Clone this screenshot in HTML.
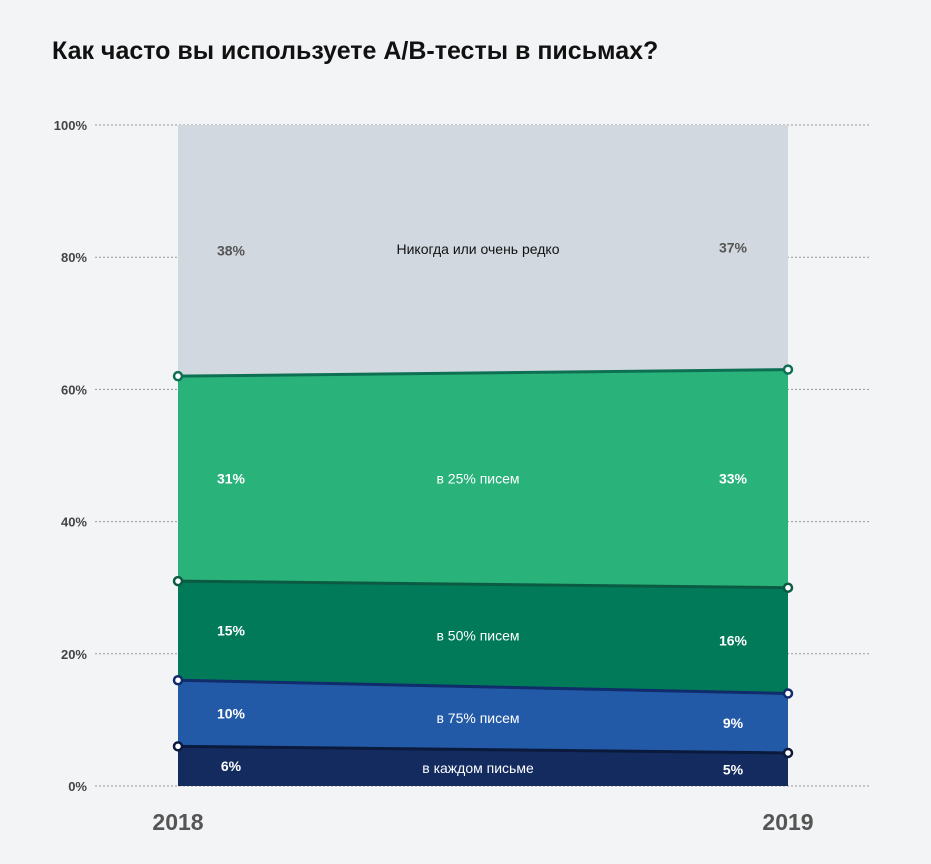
<!DOCTYPE html>
<html><head><meta charset="utf-8"><style>
body{margin:0;background:#f3f4f6;font-family:"Liberation Sans",sans-serif;}
svg{display:block}
</style></head><body>
<svg id="chart" width="931" height="864" xmlns="http://www.w3.org/2000/svg">
<rect width="931" height="864" fill="#f3f4f6"/>
<text x="52" y="59" font-size="25" font-weight="bold" fill="#111">Как часто вы используете A/B-тесты в письмах?</text>
<g id="grid"></g><g id="areas"></g><g id="lines"></g><g id="labels"></g>
</svg>
<script>
const years=["2018","2019"];
const seriesNames=["в каждом письме","в 75% писем","в 50% писем","в 25% писем","Никогда или очень редко"];
const values2018=[6,10,15,31,38];
const values2019=[5,9,16,33,37];
const yTicks=[0,20,40,60,80,100];
const fills=["#132b5f","#235aa8","#007a59","#2ab27b","#d1d8df"];
const lineCols=["#0a1a3c","#102c6a","#0b5b43","#0e7052"];
const labelCols=["#fff","#fff","#fff","#fff","#555"];
const NS="http://www.w3.org/2000/svg";
const x0=178,x1=788,yb=786,yt=125;
const y=v=>yb-(yb-yt)*v/100;
const xs=[x0,x1];
function mk(t,a,p){const e=document.createElementNS(NS,t);for(const k in a)e.setAttribute(k,a[k]);p.appendChild(e);return e;}
const grid=document.getElementById('grid');
yTicks.forEach(t=>{
 const l=mk('line',{x1:95,x2:870,y1:y(t),y2:y(t),stroke:'#999','stroke-width':1,'stroke-dasharray':'2,2'},grid);
 
 
 const tx=mk('text',{x:87,y:y(t)+5,'text-anchor':'end','font-size':13,'font-weight':'bold',fill:'#444'},grid);
 tx.textContent=t+'%';
 
 
});
years.forEach((yr,i)=>{
 const tx=mk('text',{x:i?788:178,y:830,'text-anchor':'middle','font-size':23,'font-weight':'bold',fill:'#555'},grid);
 tx.textContent=yr;
 
 
});
const vals=[values2018,values2019];
const cum=vals.map(a=>{let s=0;return a.map(v=>(s+=v));});
const areas=document.getElementById('areas'),lines=document.getElementById('lines'),labels=document.getElementById('labels');
for(let k=0;k<5;k++){
 const lo=k?[cum[0][k-1],cum[1][k-1]]:[0,0];
 const hi=k==4?[100,100]:[cum[0][k],cum[1][k]];
 const p=mk('polygon',{points:`${x0},${y(lo[0])} ${x1},${y(lo[1])} ${x1},${y(hi[1])} ${x0},${y(hi[0])}`,fill:fills[k]},areas);
 
 
 const mid=[(lo[0]+hi[0])/2,(lo[1]+hi[1])/2];
 [0,1].forEach(i=>{
  const t=mk('text',{x:i?733:231,y:y(mid[i])+5,'text-anchor':'middle','font-size':14,'font-weight':'bold',fill:labelCols[k]},labels);
  t.textContent=vals[i][k]+'%';
  
  
 });
 const c=mk('text',{x:478,y:y((mid[0]+mid[1])/2)+5,'text-anchor':'middle','font-size':14,fill:k==4?'#111':'#fff'},labels);
 c.textContent=seriesNames[k];
 
 
}
for(let k=0;k<4;k++){
 const l=mk('line',{x1:x0,y1:y(cum[0][k]),x2:x1,y2:y(cum[1][k]),stroke:lineCols[k],'stroke-width':3},lines);
 
 
 [0,1].forEach(i=>{
  const c=mk('circle',{cx:xs[i],cy:y(cum[i][k]),r:4,fill:'#fff',stroke:lineCols[k],'stroke-width':2.5},lines);
  
  
 });
}
</script>
</body></html>
